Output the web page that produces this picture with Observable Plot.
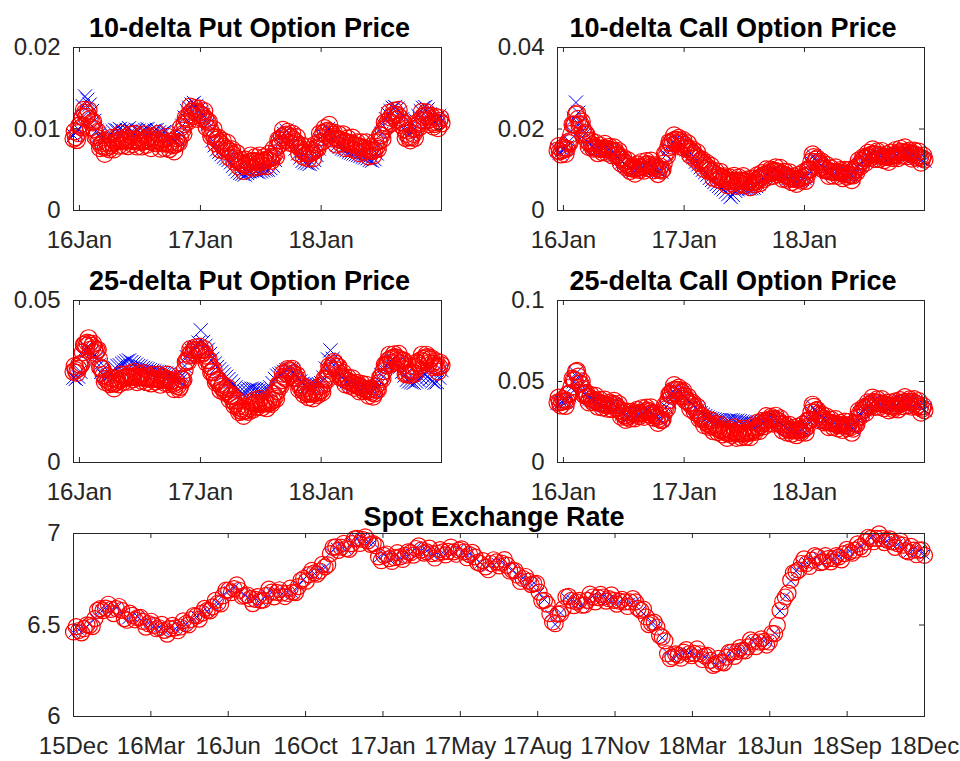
<!DOCTYPE html>
<html><head><meta charset="utf-8">
<script src="https://cdn.jsdelivr.net/npm/d3@7"></script>
<script src="https://cdn.jsdelivr.net/npm/@observablehq/plot@0.6"></script>
<style>
body{margin:0;background:#fff}
#fig{position:relative;width:960px;height:761px;overflow:hidden;background:#fff}
#fig svg{position:absolute;background:transparent}
</style>
</head><body><div id="fig"></div>
<script>
// ---- dates / ticks ----
const firstWeek = "2015-12-14";
const lastDay = "2018-12-31";
const yearTickDates = ["2016-01-01", "2017-01-01", "2018-01-01"];
const yearTickLabels = ["16Jan", "17Jan", "18Jan"];
const spotTickLabels = ["15Dec","16Mar","16Jun","16Oct","17Jan","17May","17Aug","17Nov","18Mar","18Jun","18Sep","18Dec"];

const titles = ["10-delta Put Option Price","10-delta Call Option Price","25-delta Put Option Price","25-delta Call Option Price","Spot Exchange Rate"];

const put10YTicks = [0, 0.01, 0.02];
const call10YTicks = [0, 0.02, 0.04];
const put25YTicks = [0, 0.05];
const call25YTicks = [0, 0.05, 0.1];
const spotYTicks = [6, 6.5, 7];

// ---- weekly (Monday) series: red circles = model, blue crosses = market ----
const put10Red = [
.0088,.0090,.0095,.0105,.0115,.0120,.0118,.0112,.0108,.0100,
.0092,.0085,.0080,.0078,.0077,.0078,.0080,.0082,.0084,.0085,
.0086,.0087,.0085,.0086,.0088,.0086,.0085,.0087,.0086,.0084,
.0085,.0086,.0087,.0085,.0084,.0086,.0087,.0085,.0083,.0082,
.0083,.0082,.0081,.0080,.0081,.0084,.0090,.0098,.0106,.0112,
.0118,.0121,.0122,.0121,.0120,.0118,.0116,.0112,.0108,.0100,
.0094,.0090,.0087,.0084,.0081,.0078,.0076,.0074,.0072,.0068,
.0064,.0061,.0059,.0057,.0056,.0057,.0059,.0060,.0061,.0060,
.0059,.0060,.0061,.0062,.0063,.0064,.0066,.0070,.0078,.0086,
.0090,.0092,.0093,.0092,.0090,.0087,.0084,.0080,.0076,.0073,
.0071,.0070,.0070,.0071,.0073,.0077,.0083,.0090,.0095,.0097,
.0098,.0096,.0093,.0090,.0088,.0087,.0086,.0085,.0084,.0083,
.0082,.0081,.0080,.0079,.0078,.0077,.0076,.0075,.0074,.0073,
.0074,.0078,.0085,.0092,.0099,.0105,.0110,.0114,.0117,.0118,
.0117,.0114,.0108,.0100,.0094,.0090,.0090,.0094,.0100,.0106,
.0111,.0115,.0117,.0116,.0112,.0108,.0106,.0108,.0110,.0107];
// mid-week (Thursday) readings of the red band
const put10RedMid = [
.0097,.00865,.0104,.0102,.01235,.0115,.0123,.0102,.0109,.0090,
.00965,.00765,.0083,.00695,.00835,.0075,.0089,.0075,.00895,.00795,
.00945,.0080,.00895,.0079,.0093,.00815,.0094,.00785,.0090,.00785,
.00935,.00805,.0090,.00765,.0091,.00825,.0094,.0076,.00875,.00765,
.00905,.00755,.00845,.00725,.00885,.0083,.0102,.0094,.0114,.0109,
.01275,.01155,.01255,.01125,.0125,.0113,.0122,.0102,.0109,.0091,
.0100,.00825,.00895,.00745,.00855,.0073,.0083,.0065,.0075,.0060,
.00705,.0054,.0062,.00485,.00625,.0054,.00675,.00525,.00655,.00535,
.00675,.00545,.00655,.00545,.00695,.0061,.0076,.0066,.0087,.0082,
.0099,.00865,.00965,.0083,.00945,.00815,.0090,.0070,.00795,.0066,
.00785,.0064,.00745,.0064,.0081,.0076,.00945,.00845,.0101,.00915,
.0105,.00885,.00955,.0081,.00935,.00825,.00935,.00765,.00885,.00765,
.00895,.00745,.00835,.00705,.00835,.00725,.00835,.00665,.00785,.00675,
.0084,.00755,.00925,.00875,.0108,.01035,.0120,.01075,.01225,.01115,
.01235,.0105,.0108,.0089,.0098,.0086,.0100,.0089,.0108,.01025,
.0121,.0110,.01205,.0106,.0116,.0103,.0115,.0101,.01135];
const put10Blue = [
.0092,.0096,.0100,.0112,.0128,.0140,.0136,.0130,.0122,.0110,
.0098,.0093,.0088,.0086,.0088,.0090,.0094,.0097,.0099,.0098,
.0100,.0098,.0097,.0099,.0101,.0097,.0096,.0099,.0098,.0096,
.0097,.0099,.0100,.0097,.0095,.0098,.0099,.0096,.0094,.0096,
.0097,.0093,.0090,.0088,.0086,.0088,.0094,.0104,.0114,.0122,
.0126,.0130,.0132,.0128,.0124,.0120,.0117,.0112,.0106,.0098,
.0086,.0080,.0075,.0072,.0069,.0066,.0064,.0062,.0059,.0055,
.0051,.0048,.0046,.0045,.0044,.0046,.0048,.0049,.0050,.0048,
.0047,.0048,.0049,.0050,.0050,.0052,.0055,.0062,.0072,.0082,
.0088,.0094,.0098,.0095,.0092,.0083,.0076,.0070,.0065,.0061,
.0059,.0058,.0057,.0059,.0062,.0068,.0076,.0085,.0092,.0096,
.0100,.0098,.0092,.0085,.0081,.0078,.0076,.0075,.0074,.0072,
.0071,.0070,.0069,.0068,.0067,.0066,.0065,.0064,.0062,.0061,
.0063,.0070,.0082,.0094,.0104,.0112,.0118,.0122,.0126,.0127,
.0125,.0120,.0112,.0102,.0096,.0094,.0096,.0102,.0110,.0116,
.0122,.0126,.0127,.0124,.0118,.0112,.0108,.0112,.0116,.0110];

const call10Red = [
.0147,.0145,.0148,.0150,.0152,.0165,.0188,.0210,.0235,.0225,
.0212,.0200,.0190,.0171,.0165,.0160,.0155,.0153,.0152,.0151,
.0153,.0150,.0151,.0149,.0147,.0145,.0138,.0130,.0125,.0118,
.0114,.0108,.0104,.0102,.0103,.0105,.0106,.0108,.0112,.0114,
.0112,.0109,.0106,.0103,.0100,.0098,.0115,.0139,.0155,.0165,
.0171,.0174,.0173,.0171,.0166,.0161,.0155,.0150,.0145,.0139,
.0133,.0128,.0122,.0117,.0111,.0106,.0100,.0095,.0090,.0087,
.0084,.0082,.0079,.0076,.0073,.0072,.0073,.0073,.0072,.0074,
.0073,.0072,.0071,.0070,.0069,.0069,.0072,.0076,.0082,.0085,
.0088,.0090,.0093,.0096,.0098,.0096,.0094,.0091,.0088,.0086,
.0083,.0080,.0078,.0077,.0078,.0078,.0080,.0083,.0086,.0100,
.0120,.0131,.0125,.0119,.0114,.0108,.0102,.0098,.0096,.0095,
.0094,.0094,.0094,.0092,.0091,.0090,.0088,.0087,.0086,.0098,
.0108,.0114,.0122,.0128,.0131,.0134,.0137,.0139,.0138,.0136,
.0135,.0133,.0132,.0131,.0132,.0134,.0135,.0138,.0143,.0144,
.0143,.0143,.0142,.0140,.0139,.0137,.0134,.0131,.0128,.0125];
const call10RedMid = [
.0158,.01375,.0155,.0139,.01675,.01705,.0211,.02105,.0238,.02095,
.0218,.0186,.01865,.0156,.01715,.01515,.0166,.01405,.01595,.0143,
.01635,.01415,.0156,.0136,.0155,.01355,.0146,.01155,.01295,.0107,
.0123,.0097,.0109,.00905,.0113,.00995,.0119,.0098,.0121,.0104,
.01225,.00985,.01105,.00895,.0108,.01005,.0139,.0135,.0168,.0159,
.01845,.01645,.0178,.01565,.01725,.0152,.01645,.01355,.0150,.0127,
.01425,.0116,.01255,.0102,.01175,.0097,.01095,.00805,.00965,.00765,
.0095,.00715,.00835,.00625,.00815,.00665,.0085,.00605,.0081,.00645,
.00845,.00625,.00765,.00575,.0078,.00645,.0086,.0067,.00915,.00775,
.0101,.00825,.01005,.0085,.0106,.0089,.01045,.00775,.0095,.00755,
.00935,.0070,.00835,.00655,.0087,.0073,.00935,.00725,.0101,.0101,
.01375,.0119,.0128,.01045,.0120,.0099,.0112,.0085,.01035,.00855,
.0106,.0085,.0099,.00795,.00995,.0083,.00995,.00745,.0100,.0094,
.0123,.0109,.0131,.01175,.01415,.01295,.0150,.01265,.0145,.01265,
.0146,.01235,.01375,.01195,.0142,.01285,.01485,.01285,.01515,.01345,
.0155,.01335,.0147,.01275,.0147,.01295,.01445,.01175,.01345];
const call10Blue = [
.0150,.0142,.0150,.0152,.0155,.0170,.0195,.0225,.0265,.0240,
.0215,.0198,.0188,.0168,.0162,.0158,.0153,.0150,.0150,.0149,
.0150,.0148,.0149,.0146,.0144,.0140,.0133,.0126,.0120,.0113,
.0109,.0103,.0100,.0098,.0100,.0102,.0104,.0106,.0110,.0112,
.0110,.0106,.0103,.0100,.0097,.0095,.0112,.0136,.0152,.0162,
.0168,.0172,.0172,.0169,.0163,.0157,.0150,.0144,.0138,.0131,
.0120,.0113,.0106,.0100,.0094,.0088,.0080,.0075,.0070,.0065,
.0060,.0056,.0052,.0046,.0040,.0033,.0038,.0048,.0052,.0055,
.0056,.0055,.0055,.0054,.0055,.0056,.0060,.0066,.0074,.0080,
.0086,.0088,.0091,.0094,.0096,.0094,.0091,.0088,.0085,.0082,
.0079,.0076,.0074,.0073,.0074,.0075,.0077,.0080,.0084,.0098,
.0118,.0133,.0123,.0116,.0111,.0105,.0100,.0096,.0094,.0093,
.0092,.0092,.0092,.0090,.0089,.0088,.0086,.0085,.0084,.0096,
.0106,.0112,.0120,.0126,.0130,.0132,.0135,.0137,.0136,.0134,
.0133,.0131,.0130,.0129,.0130,.0132,.0133,.0136,.0141,.0142,
.0141,.0141,.0140,.0138,.0137,.0134,.0131,.0128,.0124,.0122];

const put25Red = [
.0280,.0285,.0290,.0300,.0340,.0365,.0370,.0367,.0360,.0352,
.0346,.0320,.0290,.0270,.0258,.0252,.0248,.0243,.0245,.0250,
.0254,.0258,.0262,.0264,.0265,.0263,.0266,.0264,.0262,.0264,
.0262,.0260,.0259,.0258,.0260,.0259,.0257,.0256,.0254,.0256,
.0258,.0255,.0250,.0243,.0240,.0236,.0233,.0255,.0285,.0315,
.0330,.0340,.0346,.0348,.0347,.0346,.0340,.0330,.0315,.0298,
.0280,.0264,.0253,.0243,.0233,.0226,.0220,.0213,.0205,.0192,
.0182,.0172,.0161,.0158,.0160,.0161,.0168,.0175,.0182,.0183,
.0182,.0181,.0182,.0183,.0182,.0186,.0192,.0202,.0220,.0240,
.0254,.0265,.0276,.0284,.0282,.0274,.0262,.0248,.0233,.0225,
.0218,.0213,.0212,.0213,.0213,.0215,.0218,.0223,.0240,.0258,
.0274,.0290,.0300,.0305,.0295,.0274,.0265,.0258,.0254,.0250,
.0246,.0243,.0240,.0236,.0233,.0230,.0226,.0223,.0220,.0216,
.0213,.0225,.0245,.0264,.0282,.0300,.0315,.0320,.0323,.0325,
.0322,.0318,.0315,.0300,.0274,.0276,.0280,.0284,.0295,.0305,
.0315,.0320,.0324,.0325,.0318,.0305,.0300,.0296,.0295,.0300];
const put25RedMid = [
.02975,.02765,.0303,.0305,.03635,.03595,.03835,.03485,.0366,.0338,
.0348,.0294,.0288,.0249,.0266,.0242,.02605,.0229,.02575,.0241,
.0271,.0249,.0271,.02495,.0275,.02565,.0280,.0248,.0273,.0252,
.0276,.02485,.02665,.0244,.02705,.0250,.02715,.0240,.0265,.0246,
.02715,.02415,.02545,.02265,.0249,.02265,.0259,.0255,.0310,.03115,
.0350,.0332,.0355,.03325,.03575,.0335,.0350,.03075,.03165,.0278,
.0287,.02475,.0256,.0223,.02405,.0215,.02315,.0194,.02085,.0176,
.0192,.01555,.01675,.0144,.01715,.01565,.01865,.01635,.01925,.01715,
.01965,.01705,.01905,.01675,.0195,.0181,.0212,.0196,.0240,.0236,
.02745,.02595,.0288,.0268,.0289,.0260,.0270,.02255,.0239,.02105,
.02305,.02015,.02205,.0198,.0225,.02085,.02355,.02165,.0259,.0255,
.0297,.0284,.03105,.0285,.02955,.02615,.02765,.0241,.0262,.0237,
.02595,.02305,.0246,.02195,.02425,.0220,.02395,.02065,.0228,.02035,
.0234,.0224,.02625,.0258,.0302,.02995,.03325,.03065,.0334,.03125,
.0335,.03055,.03155,.0272,.0286,.0270,.0297,.02745,.0310,.0299,
.03325,.0311,.03325,.03065,.03225,.02945,.0313,.02805,.03075];
const put25Blue = [
.0262,.0258,.0265,.0280,.0330,.0350,.0352,.0348,.0340,.0330,
.0320,.0300,.0280,.0268,.0262,.0265,.0275,.0285,.0292,.0298,
.0300,.0305,.0308,.0312,.0315,.0310,.0306,.0302,.0298,.0296,
.0292,.0290,.0288,.0285,.0283,.0282,.0280,.0279,.0277,.0276,
.0275,.0272,.0268,.0262,.0258,.0255,.0252,.0270,.0298,.0325,
.0338,.0346,.0352,.0356,.0370,.0408,.0372,.0360,.0348,.0335,
.0320,.0305,.0295,.0288,.0280,.0272,.0265,.0258,.0250,.0240,
.0232,.0225,.0220,.0215,.0218,.0222,.0226,.0228,.0227,.0225,
.0222,.0220,.0221,.0223,.0225,.0232,.0245,.0258,.0268,.0272,
.0275,.0280,.0285,.0288,.0286,.0280,.0270,.0260,.0250,.0243,
.0238,.0236,.0237,.0238,.0240,.0240,.0242,.0245,.0262,.0290,
.0318,.0346,.0320,.0305,.0290,.0272,.0262,.0255,.0250,.0246,
.0244,.0240,.0238,.0236,.0234,.0232,.0230,.0228,.0226,.0224,
.0222,.0232,.0252,.0270,.0286,.0300,.0308,.0312,.0314,.0312,
.0305,.0295,.0280,.0268,.0255,.0250,.0248,.0246,.0250,.0255,
.0262,.0268,.0270,.0265,.0258,.0250,.0246,.0248,.0262,.0285];

const call25Red = [
.0370,.0372,.0376,.0378,.0380,.0420,.0466,.0510,.0560,.0530,
.0487,.0455,.0425,.0405,.0398,.0390,.0384,.0378,.0370,.0363,
.0360,.0356,.0353,.0358,.0363,.0355,.0340,.0322,.0305,.0290,
.0281,.0288,.0296,.0302,.0303,.0302,.0302,.0308,.0315,.0322,
.0315,.0305,.0292,.0280,.0270,.0261,.0300,.0345,.0384,.0420,
.0446,.0450,.0448,.0446,.0430,.0410,.0384,.0368,.0355,.0343,
.0325,.0303,.0281,.0268,.0254,.0240,.0233,.0226,.0220,.0213,
.0206,.0199,.0192,.0185,.0179,.0183,.0189,.0185,.0180,.0179,
.0178,.0179,.0180,.0184,.0190,.0199,.0209,.0220,.0230,.0241,
.0251,.0261,.0265,.0268,.0271,.0262,.0250,.0235,.0220,.0209,
.0204,.0200,.0199,.0198,.0199,.0199,.0203,.0210,.0220,.0260,
.0310,.0343,.0320,.0300,.0281,.0268,.0258,.0250,.0246,.0243,
.0240,.0235,.0230,.0230,.0231,.0230,.0225,.0218,.0209,.0240,
.0275,.0302,.0318,.0330,.0343,.0355,.0366,.0374,.0372,.0368,
.0363,.0360,.0356,.0353,.0350,.0347,.0343,.0352,.0363,.0368,
.0372,.0374,.0375,.0374,.0374,.0365,.0355,.0343,.0333,.0322];
const call25RedMid = [
.0401,.0352,.0392,.0349,.0422,.0428,.0518,.0505,.0565,.04865,
.0501,.0418,.0430,.03715,.0416,.0372,.0411,.0344,.03865,.03395,
.0388,.03325,.03705,.03305,.0381,.03325,.0361,.02835,.03175,.02635,
.03145,.0270,.0314,.02725,.03245,.0287,.0335,.02815,.03385,.02965,
.0340,.02765,.0301,.0245,.02875,.02655,.03525,.03345,.0422,.0411,
.0478,.0427,.0462,.0408,.0442,.0382,.0406,.03315,.0369,.0312,
.0344,.0270,.02895,.0231,.0269,.02215,.02595,.0193,.02365,.01875,
.02325,.01735,.02035,.0152,.0203,.0171,.0217,.01525,.01995,.01565,
.02085,.01575,.0197,.0157,.02165,.0189,.02445,.0195,.02555,.0224,
.0286,.0241,.02815,.02395,.02885,.0241,.02725,.01975,.02345,.01845,
.0232,.01775,.02135,.01685,.0221,.0186,.02365,.0185,.0260,.0263,
.03565,.03095,.0325,.02605,.02965,.0248,.0284,.0218,.02645,.02195,
.02675,.02105,.0245,.02005,.02525,.02125,.02515,.01835,.02445,.02355,
.03185,.0288,.0339,.03065,.0371,.03455,.0400,.0343,.0390,.03435,
.03915,.0336,.03695,.03215,.03705,.0330,.03775,.03275,.03855,.0348,
.0403,.03525,.03895,.0344,.03915,.0345,.0379,.0308,.03475];
const call25Blue = [
.0368,.0366,.0372,.0375,.0378,.0415,.0460,.0500,.0550,.0520,
.0480,.0450,.0420,.0402,.0395,.0388,.0382,.0375,.0368,.0361,
.0358,.0354,.0352,.0356,.0360,.0352,.0338,.0320,.0303,.0289,
.0280,.0286,.0294,.0300,.0301,.0300,.0300,.0306,.0313,.0320,
.0313,.0303,.0290,.0279,.0270,.0262,.0298,.0342,.0380,.0415,
.0440,.0445,.0444,.0442,.0428,.0410,.0388,.0375,.0365,.0355,
.0340,.0322,.0305,.0295,.0286,.0278,.0272,.0268,.0265,.0262,
.0260,.0262,.0258,.0255,.0258,.0262,.0260,.0256,.0258,.0255,
.0252,.0250,.0248,.0245,.0242,.0240,.0238,.0240,.0245,.0252,
.0258,.0265,.0268,.0270,.0272,.0264,.0252,.0238,.0224,.0213,
.0208,.0204,.0203,.0202,.0203,.0203,.0206,.0213,.0224,.0262,
.0308,.0340,.0318,.0298,.0280,.0267,.0257,.0250,.0246,.0243,
.0240,.0236,.0232,.0231,.0232,.0231,.0226,.0220,.0212,.0240,
.0272,.0300,.0316,.0328,.0340,.0352,.0364,.0372,.0370,.0367,
.0362,.0360,.0357,.0354,.0352,.0350,.0346,.0355,.0366,.0372,
.0375,.0378,.0378,.0376,.0376,.0368,.0358,.0346,.0336,.0326];

const spotRed = [
6.462,6.470,6.480,6.498,6.535,6.589,6.592,6.585,6.590,6.580,
6.526,6.553,6.540,6.520,6.507,6.498,6.485,6.471,6.480,6.484,
6.489,6.507,6.530,6.550,6.565,6.580,6.599,6.620,6.660,6.690,
6.699,6.690,6.660,6.644,6.640,6.635,6.662,6.680,6.678,6.675,
6.672,6.680,6.710,6.754,6.775,6.785,6.795,6.818,6.890,6.927,
6.925,6.918,6.945,6.973,6.968,6.960,6.945,6.872,6.881,6.863,
6.868,6.872,6.881,6.895,6.918,6.910,6.900,6.890,6.892,6.900,
6.902,6.900,6.909,6.900,6.885,6.872,6.836,6.818,6.836,6.845,
6.838,6.827,6.799,6.772,6.754,6.740,6.726,6.680,6.635,6.562,
6.507,6.562,6.653,6.635,6.626,6.608,6.635,6.653,6.650,6.653,
6.644,6.635,6.630,6.626,6.626,6.626,6.580,6.544,6.510,6.489,
6.434,6.343,6.325,6.335,6.352,6.343,6.345,6.343,6.330,6.307,
6.288,6.297,6.325,6.352,6.355,6.361,6.380,6.407,6.407,6.410,
6.407,6.453,6.580,6.653,6.745,6.790,6.836,6.836,6.854,6.872,
6.845,6.863,6.863,6.872,6.890,6.900,6.909,6.927,6.954,6.973,
6.973,6.973,6.964,6.954,6.945,6.936,6.900,6.909,6.909,6.881];
const spotRedMid = [
6.491,6.457,6.501,6.4915,6.580,6.5785,6.6135,6.5625,6.601,6.535,
6.5645,6.5285,6.542,6.4885,6.5205,6.4795,6.503,6.4505,6.498,6.4685,
6.523,6.5005,6.552,6.5325,6.5905,6.5775,6.6345,6.615,6.691,6.6765,
6.7195,6.657,6.664,6.617,6.6555,6.6365,6.696,6.654,6.6925,6.6555,
6.701,6.677,6.744,6.7395,6.798,6.778,6.8315,6.829,6.9245,6.908,
6.9465,6.9135,6.971,6.9455,6.982,6.9405,6.9335,6.8515,6.888,6.8475,
6.895,6.8585,6.900,6.8815,6.932,6.893,6.920,6.866,6.912,6.883,
6.926,6.8865,6.9165,6.8675,6.8965,6.842,6.852,6.802,6.8565,6.8235,
6.8575,6.795,6.7975,6.738,6.765,6.721,6.728,6.6325,6.6145,6.5165,
6.5595,6.5895,6.656,6.6055,6.635,6.6095,6.669,6.6265,6.6675,6.6305,
6.6645,6.6145,6.640,6.601,6.644,6.591,6.587,6.502,6.5155,6.4435,
6.4135,6.316,6.342,6.3185,6.3655,6.332,6.369,6.3115,6.3345,6.2795,
6.3175,6.293,6.3505,6.3285,6.376,6.3585,6.4185,6.382,6.4245,6.3905,
6.455,6.4985,6.6285,6.674,6.7855,6.801,6.861,6.820,6.879,6.8405,
6.879,6.845,6.8795,6.856,6.913,6.8925,6.943,6.9155,6.9795,6.955,
6.998,6.9505,6.971,6.9245,6.9585,6.906,6.9295,6.884,6.911];
const spotBlue = [
6.458,6.474,6.478,6.505,6.540,6.584,6.596,6.580,6.594,6.572,
6.530,6.548,6.545,6.515,6.510,6.494,6.488,6.468,6.484,6.480,
6.493,6.503,6.534,6.546,6.570,6.576,6.604,6.616,6.664,6.686,
6.704,6.686,6.664,6.640,6.645,6.631,6.666,6.676,6.682,6.671,
6.676,6.676,6.714,6.750,6.779,6.781,6.799,6.814,6.894,6.923,
6.929,6.914,6.949,6.969,6.972,6.956,6.949,6.868,6.885,6.859,
6.872,6.868,6.885,6.891,6.922,6.906,6.904,6.886,6.896,6.896,
6.906,6.896,6.913,6.896,6.889,6.868,6.840,6.814,6.840,6.841,
6.842,6.823,6.803,6.768,6.758,6.736,6.730,6.676,6.639,6.558,
6.503,6.566,6.649,6.639,6.622,6.612,6.631,6.657,6.646,6.657,
6.640,6.639,6.626,6.630,6.622,6.630,6.576,6.548,6.506,6.493,
6.430,6.347,6.321,6.339,6.348,6.347,6.341,6.347,6.326,6.311,
6.284,6.301,6.321,6.356,6.351,6.365,6.376,6.411,6.403,6.414,
6.403,6.457,6.576,6.657,6.741,6.794,6.832,6.840,6.850,6.876,
6.841,6.867,6.859,6.876,6.886,6.904,6.905,6.931,6.950,6.977,
6.969,6.977,6.960,6.958,6.941,6.940,6.896,6.913,6.905,6.885];

// ---- build ----
const t0 = new Date(firstWeek + "T00:00:00Z");
const t1 = new Date(lastDay + "T00:00:00Z");
const weekDates = spotRed.map((_, i) => d3.utcDay.offset(t0, 7 * i));
const midDates = spotRedMid.map((_, i) => d3.utcHour.offset(weekDates[i], 84));
const rows = (arr, dates) => arr.map((v, i) => ({date: dates[i], v}));

const yearTicks = yearTickDates.map(s => new Date(s + "T00:00:00Z"));
const yearLabel = new Map(yearTicks.map((d, i) => [+d, yearTickLabels[i]]));
const spotTicks = spotTickLabels.map((_, i) => new Date(+t0 + i * (t1 - t0) / (spotTickLabels.length - 1)));
const spotLabel = new Map(spotTicks.map((d, i) => [+d, spotTickLabels[i]]));

const INK = "#262626";
const FONT = "'Liberation Sans', Arial, Helvetica, sans-serif";

function panel({red, redMid, blue, yTicks, title, titleDx, titleDy, xTicks, xLabel, left, top, width, height, ml, mr, mt, mb, rRed, rBlue, swRed}) {
  const fw = width - ml - mr, fh = height - mt - mb;
  const redRows = rows(red, weekDates).concat(rows(redMid, midDates)).sort((a, b) => a.date - b.date);
  const svg = Plot.plot({
    width, height, marginLeft: ml, marginRight: mr, marginTop: mt, marginBottom: mb,
    style: {fontFamily: FONT, fontSize: "24px", color: INK, background: "transparent", overflow: "visible"},
    x: {type: "utc", domain: [t0, t1], label: null},
    y: {domain: [yTicks[0], yTicks[yTicks.length - 1]], label: null},
    marks: [
      Plot.dot(rows(blue, weekDates), {x: "date", y: "v", symbol: "times", r: rBlue, stroke: "#0000ff", strokeWidth: 1}),
      Plot.dot(redRows, {x: "date", y: "v", symbol: "circle", r: rRed, stroke: "#ff0000", strokeWidth: swRed, fill: "none"}),
      Plot.frame({stroke: INK, strokeWidth: 1}),
      Plot.tickX(xTicks, {x: d => d, stroke: INK, insetTop: fh - 5}),
      Plot.tickX(xTicks, {x: d => d, stroke: INK, insetBottom: fh - 5}),
      Plot.tickY(yTicks, {y: d => d, stroke: INK, insetRight: fw - 5}),
      Plot.tickY(yTicks, {y: d => d, stroke: INK, insetLeft: fw - 5}),
      Plot.axisX({ticks: xTicks, tickSize: 0, tickPadding: 20, tickFormat: d => xLabel.get(+d), fontSize: 24, fill: INK, label: null}),
      Plot.axisY({ticks: yTicks, tickSize: 0, tickPadding: 13, tickFormat: d => String(d), fontSize: 24, fill: INK, label: null}),
      Plot.text([title], {frameAnchor: "top", text: d => d, dy: titleDy, dx: titleDx, lineAnchor: "bottom", fontSize: 27, fontWeight: "bold", fill: "#000"})
    ]
  });
  svg.style.left = left + "px";
  svg.style.top = top + "px";
  document.getElementById("fig").appendChild(svg);
}

const small = {rRed: 8.5, rBlue: 6.5, swRed: 1.2, titleDy: -11};
panel({...small, red: put10Red, redMid: put10RedMid, blue: put10Blue, yTicks: put10YTicks, title: titles[0], titleDx: -8, xTicks: yearTicks, xLabel: yearLabel,
  left: 0, top: 0, width: 480, height: 258, ml: 73, mr: 39, mt: 47, mb: 48});
panel({...small, red: call10Red, redMid: call10RedMid, blue: call10Blue, yTicks: call10YTicks, title: titles[1], titleDx: -8, xTicks: yearTicks, xLabel: yearLabel,
  left: 480, top: 0, width: 480, height: 258, ml: 77, mr: 36, mt: 47, mb: 48});
panel({...small, red: put25Red, redMid: put25RedMid, blue: put25Blue, yTicks: put25YTicks, title: titles[2], titleDx: -8, xTicks: yearTicks, xLabel: yearLabel,
  left: 0, top: 258, width: 480, height: 252, ml: 73, mr: 39, mt: 42, mb: 48});
panel({...small, red: call25Red, redMid: call25RedMid, blue: call25Blue, yTicks: call25YTicks, title: titles[3], titleDx: -8, xTicks: yearTicks, xLabel: yearLabel,
  left: 480, top: 258, width: 480, height: 252, ml: 77, mr: 36, mt: 42, mb: 48});
panel({red: spotRed, redMid: spotRedMid, blue: spotBlue, yTicks: spotYTicks, title: titles[4], titleDx: -5, titleDy: -8, xTicks: spotTicks, xLabel: spotLabel,
  rRed: 8, rBlue: 4.5, swRed: 1.2,
  left: 0, top: 510, width: 960, height: 251, ml: 73, mr: 36, mt: 23, mb: 45});
</script>
</body></html>
